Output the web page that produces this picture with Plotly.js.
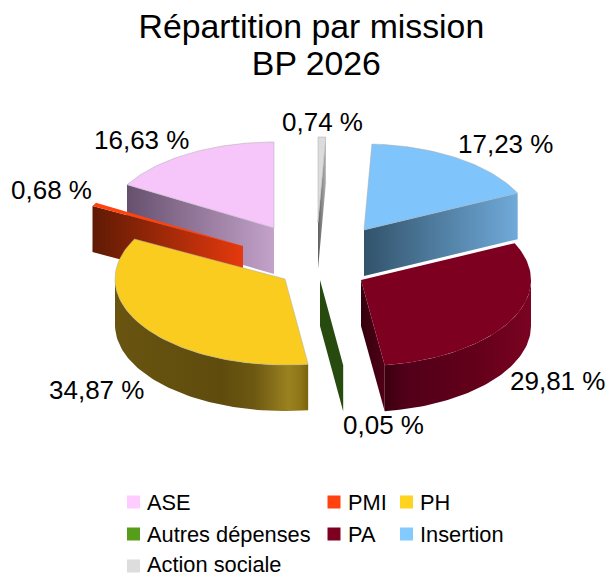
<!DOCTYPE html>
<html>
<head>
<meta charset="utf-8">
<script src="https://cdn.plot.ly/plotly-3.0.1.min.js"></script>
<style>html,body{margin:0;padding:0;background:#fff}#c{width:607px;height:577px}</style>
</head>
<body>
<div id="c"></div>
<script>
// Data
const categories = ["ASE","PMI","PH","Autres dépenses","PA","Insertion","Action sociale"];
const shares = [16.63,0.68,34.87,0.05,29.81,17.23,0.74];
const titleLines = ["Répartition par mission","BP 2026"];

// Styles
const topColors = ["#f6c5fa","#ff420e","#f9cc1f","#579d1c","#7e0021","#7fc4fb","#dcdcdc"];
const swatchColors = ["#ffccff","#ff420e","#ffd320","#579d1c","#7e0021","#83caff","#dddddd"];
const cutGradients = [
  ["#66506e","#c4a2ca"],["#5f1a04","#e5390d"],null,["#274a0e","#274a0e"],
  ["#35000e","#4f0016"],["#32536b","#70aad9"],["#5c5c5c","#b4b4b4"]
];
const wallStops = {
  2:[[0,"#695410"],[0.55,"#5f4c0d"],[0.72,"#6d5812"],[0.9,"#9a8220"],[0.96,"#8f7516"],[1,"#7a630e"]],
  4:[[0,"#3c0010"],[0.15,"#52001a"],[0.6,"#620019"],[1,"#7a0322"]]
};

// Layout constants (page pixels)
const rx = 170, ry = 86, depth = 46;
const apexX = [274,243,285,320,361,364,318];
const apexY = [228,246,279,280,280,230,223];
const labelX = [141,51.8,96.8,383.8,557.5,505.5,322];
const labelY = [140,190,390,425,381,144,122];
const legendX = [133.5,334,406.5,133.5,334,406.5,133.5];
const legendY = [502,502,502,534,534,534,566];

// Angles are derived from the shares
const total = shares.reduce((a,b)=>a+b,0);
let running = 0;
const starts = [], ends = [];
shares.forEach(v=>{ starts.push(running/total*2*Math.PI); running+=v; ends.push(running/total*2*Math.PI); });

function rim(i,t,dy){ return [apexX[i]-rx*Math.sin(t), apexY[i]-ry*Math.cos(t)+(dy||0)]; }
function arc(i,a,b,dy){ const n=Math.max(2,Math.ceil(Math.abs(b-a)*40)),out=[]; for(let k=0;k<=n;k++){out.push(rim(i,a+(b-a)*k/n,dy));} return out; }
function poly(points,color,grad,line){
  const t={type:"scatter",mode:"lines",x:points.map(p=>p[0]),y:points.map(p=>p[1]),fill:"toself",
    showlegend:false,hoverinfo:"skip",line:line||{width:0,color:color}};
  if(grad){t.fillgradient={type:"horizontal",colorscale:grad};t.fillcolor=color;} else {t.fillcolor=color;}
  return t;
}
const outline={width:0.5,color:"#aaaaaa"};
function topFace(i,useLine){
  const pts=[[apexX[i],apexY[i]]].concat(arc(i,starts[i],ends[i]));pts.push([apexX[i],apexY[i]]);
  return poly(pts,topColors[i],null,useLine?outline:null);
}
function cutFace(i,t){
  const g=cutGradients[i],a=[apexX[i],apexY[i]],r=rim(i,t);
  const pts=[a,r,[r[0],r[1]+depth],[a[0],a[1]+depth],a];
  return poly(pts,g[0],[[0,g[0]],[1,g[1]]]);
}
function outerWall(i,a,b){
  const up=arc(i,a,b),low=arc(i,a,b,depth).reverse();
  const pts=up.concat(low);pts.push(up[0]);
  return poly(pts,wallStops[i][0][1],wallStops[i]);
}
const PI=Math.PI;
const traces=[
  cutFace(0,ends[0]),topFace(0,true),
  cutFace(5,starts[5]),topFace(5,true),
  cutFace(6,starts[6]),topFace(6,true),
  cutFace(1,ends[1]),topFace(1,false),
  outerWall(2,PI/2,ends[2]),topFace(2,true),
  cutFace(3,starts[3]),topFace(3,false),
  cutFace(4,starts[4]),outerWall(4,starts[4],1.5*PI),topFace(4,false)
];
// Legend swatches
categories.forEach((c,i)=>{
  traces.push({type:"scatter",mode:"markers",name:c,x:[legendX[i]],y:[legendY[i]],showlegend:false,hoverinfo:"name",
    marker:{symbol:"square",size:13,color:swatchColors[i],line:{width:0}}});
});

const font="'Liberation Sans', Arial, sans-serif";
const fmt=v=>v.toFixed(2).replace(".",",")+" %";
const annotations=[];
shares.forEach((v,i)=>annotations.push({x:labelX[i],y:labelY[i],xref:"x",yref:"y",text:fmt(v),showarrow:false,
  xanchor:"center",yanchor:"middle",font:{family:font,size:26,color:"#000"}}));
categories.forEach((c,i)=>annotations.push({x:legendX[i]+11.5,y:Math.min(legendY[i],564),xref:"x",yref:"y",text:c,showarrow:false,
  xanchor:"left",yanchor:"middle",font:{family:font,size:21.8,color:"#000"}}));

const layout={
  width:607,height:577,margin:{l:0,r:0,t:0,b:0},paper_bgcolor:"#fff",plot_bgcolor:"#fff",showlegend:false,
  title:{text:titleLines.join("<br>"),x:0.513,xanchor:"center",y:0.934,yanchor:"middle",font:{family:font,size:33.8,color:"#000"}},
  xaxis:{range:[0,607],visible:false,fixedrange:true},
  yaxis:{range:[577,0],visible:false,fixedrange:true},
  annotations:annotations
};
function tightenTitle(){
  const lines=document.querySelectorAll("#c .gtitle tspan.line");
  if(lines.length>1){ lines[1].setAttribute("dy","37px"); lines[1].setAttribute("dx","5px"); }
}
Plotly.newPlot("c",traces,layout,{displayModeBar:false,staticPlot:true}).then(tightenTitle);
</script>
</body>
</html>
